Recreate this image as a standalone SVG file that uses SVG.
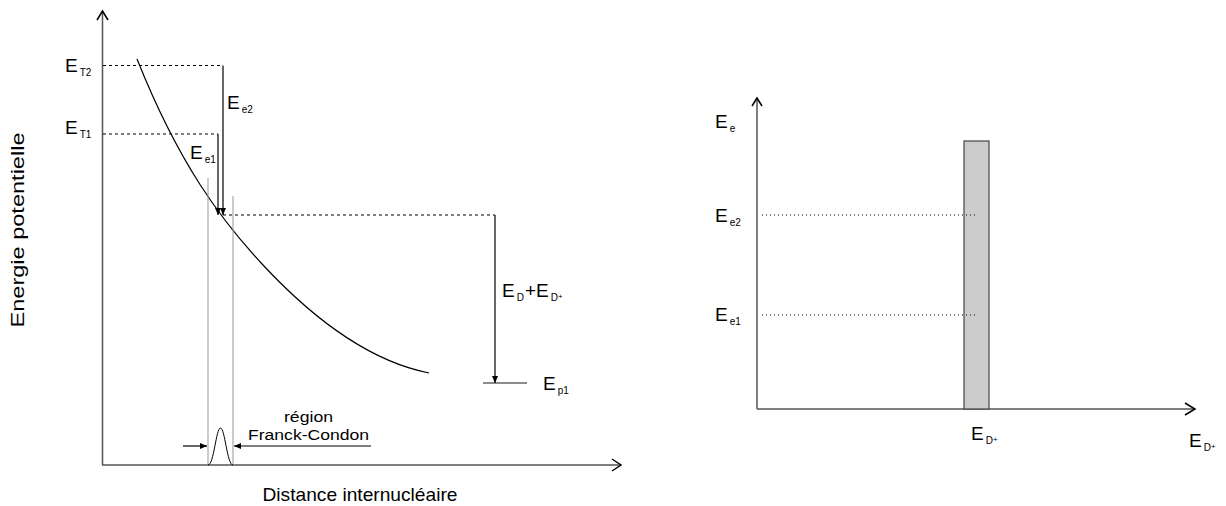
<svg xmlns="http://www.w3.org/2000/svg" width="1226" height="506" viewBox="0 0 1226 506">
<style>
text{font-family:"Liberation Sans",Arial,sans-serif;fill:#000}
.lbl{font-size:19px}
.sub{font-size:10px}
.sup{font-size:8px}
.axis{stroke:#555;stroke-width:1.5;fill:none}
.chev{stroke:#000;stroke-width:1.5;fill:none}
.dot{stroke:#000;stroke-width:1;stroke-dasharray:3,3;fill:none}
.fine{stroke:#000;stroke-width:1;stroke-dasharray:1,3;fill:none}
.arr{stroke:#000;stroke-width:1.2;fill:none;marker-end:url(#ah)}
.grey{stroke:#999;stroke-width:1;fill:none}
</style>
<defs>
<marker id="ah" markerUnits="userSpaceOnUse" markerWidth="8" markerHeight="6" refX="7" refY="3" orient="auto">
<path d="M0,0 L7,3 L0,6 z" fill="#000"/>
</marker>
</defs>
<rect width="1226" height="506" fill="#fff"/>

<g id="left-axes">
<line class="axis" x1="102.5" y1="465" x2="102.5" y2="11"/>
<polyline class="chev" points="97,20 102.5,11 108,20"/>
<line class="axis" x1="102" y1="465" x2="621" y2="465"/>
<polyline class="chev" points="612,459 621,465 612,471"/>
<text x="24" y="230" font-size="19" text-anchor="middle" textLength="195" lengthAdjust="spacingAndGlyphs" transform="rotate(-90 24 230)">Energie potentielle</text>
<text x="360" y="501" font-size="19" text-anchor="middle" textLength="195" lengthAdjust="spacingAndGlyphs">Distance internucléaire</text>
</g>

<g id="curve">
<path d="M137,59 C179,164 221,220 263,265 C318,324 374,362 429,373" stroke="#000" stroke-width="1.2" fill="none"/>
</g>

<g id="levels">
<line class="dot" x1="103" y1="65.5" x2="223" y2="65.5"/>
<line class="dot" x1="103" y1="134" x2="218" y2="134"/>
<line class="dot" x1="223" y1="215" x2="495" y2="215"/>
<line x1="483" y1="383" x2="527" y2="383" stroke="#666" stroke-width="1.5"/>
<text class="lbl" x="65" y="72">E<tspan class="sub" dx="2" dy="4">T2</tspan></text>
<text class="lbl" x="65" y="134">E<tspan class="sub" dx="2" dy="4">T1</tspan></text>
<text class="lbl" x="543" y="390">E<tspan class="sub" dx="2" dy="4">p1</tspan></text>
</g>

<g id="franck-condon">
<line class="grey" x1="208" y1="178" x2="208" y2="465"/>
<line class="grey" x1="233" y1="196" x2="233" y2="465"/>
<path d="M208,465 C214,465 216,428 220.5,428 C225,428 227,465 233,465" stroke="#000" stroke-width="1" fill="none"/>
<text x="308.5" y="422" font-size="15.5" text-anchor="middle" textLength="49" lengthAdjust="spacingAndGlyphs">région</text>
<text x="308.5" y="440" font-size="15.5" text-anchor="middle" textLength="121" lengthAdjust="spacingAndGlyphs">Franck-Condon</text>
</g>

<g id="connectors">
<line class="arr" x1="223" y1="65.5" x2="223" y2="215"/>
<line class="arr" x1="218" y1="134" x2="218" y2="215"/>
<line class="arr" x1="495" y1="215" x2="495" y2="383"/>
<line class="arr" x1="183" y1="446" x2="207" y2="446"/>
<line class="arr" x1="371" y1="446" x2="234" y2="446"/>
<text class="lbl" x="227" y="109">E<tspan class="sub" dx="2" dy="4">e2</tspan></text>
<text class="lbl" x="190" y="159">E<tspan class="sub" dx="2" dy="4">e1</tspan></text>
<text class="lbl" x="502" y="297">E<tspan class="sub" dx="2" dy="4">D</tspan><tspan dx="1" dy="-4">+</tspan>E<tspan class="sub" dx="2" dy="4">D</tspan><tspan class="sup" dy="-2">+</tspan></text>
</g>

<g id="right-axes">
<line class="axis" x1="757" y1="409" x2="757" y2="98"/>
<polyline class="chev" points="752,106 757,98 762,106"/>
<line class="axis" x1="757" y1="409" x2="1195" y2="409"/>
<polyline class="chev" points="1185,403 1195,409 1185,415"/>
<text class="lbl" x="715" y="128">E<tspan class="sub" dx="2" dy="4">e</tspan></text>
<text class="lbl" x="1189" y="447">E<tspan class="sub" dx="2" dy="4">D</tspan><tspan class="sup" dy="-2">+</tspan></text>
</g>

<g id="bar">
<rect x="964" y="141" width="25" height="268" fill="#ccc" stroke="#444" stroke-width="1.2"/>
<text class="lbl" x="971" y="440">E<tspan class="sub" dx="2" dy="4">D</tspan><tspan class="sup" dy="-2">+</tspan></text>
</g>

<g id="right-levels">
<line class="fine" x1="762" y1="215" x2="975" y2="215"/>
<line class="fine" x1="762" y1="315" x2="975" y2="315"/>
<text class="lbl" x="715" y="222">E<tspan class="sub" dx="2" dy="4">e2</tspan></text>
<text class="lbl" x="715" y="321">E<tspan class="sub" dx="2" dy="4">e1</tspan></text>
</g>
</svg>
